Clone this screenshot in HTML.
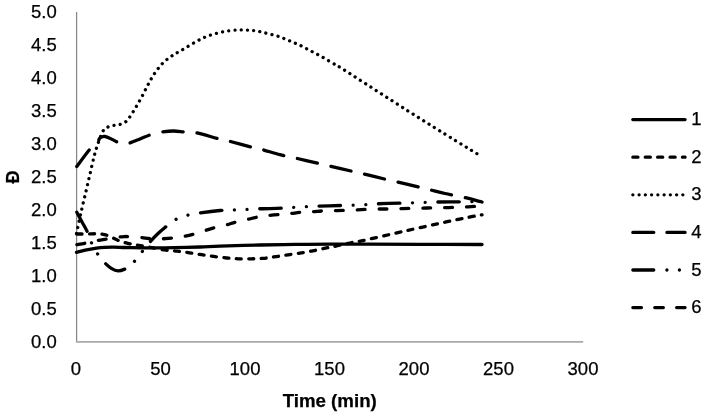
<!DOCTYPE html>
<html><head><meta charset="utf-8"><style>
html,body{margin:0;padding:0;background:#fff;}
body{width:710px;height:415px;overflow:hidden;}
svg{display:block;filter:grayscale(1);}
text{font-family:"Liberation Sans",sans-serif;font-size:18.5px;fill:#000;stroke:#000;stroke-width:0.25px;}
</style></head><body>
<svg width="710" height="415" viewBox="0 0 710 415">
<rect x="0" y="0" width="710" height="415" fill="#fff"/>
<path d="M76.6,11.9 L76.6,341.2" fill="none" stroke="#878787" stroke-width="1.25"/>
<path d="M75.95,341.95 L583.2,341.95" fill="none" stroke="#a9a9a9" stroke-width="1.8"/>
<g fill="none" stroke="#000" stroke-width="3.3" stroke-linecap="round" stroke-linejoin="round">
<path d="M76.50,252.40 C77.97,252.02 81.97,250.82 85.30,250.10 C88.63,249.38 93.22,248.57 96.50,248.10 C99.78,247.63 102.18,247.47 105.00,247.30 C107.82,247.13 110.07,247.07 113.40,247.10 C116.73,247.13 120.57,247.38 125.00,247.50 C129.43,247.62 135.50,247.73 140.00,247.80 C144.50,247.87 146.33,247.92 152.00,247.90 C157.67,247.88 166.00,247.85 174.00,247.70 C182.00,247.55 192.33,247.25 200.00,247.00 C207.67,246.75 210.00,246.53 220.00,246.20 C230.00,245.87 247.50,245.30 260.00,245.00 C272.50,244.70 283.33,244.53 295.00,244.40 C306.67,244.27 318.00,244.23 330.00,244.20 C342.00,244.17 352.00,244.18 367.00,244.20 C382.00,244.22 400.83,244.25 420.00,244.30 C439.17,244.35 471.67,244.47 482.00,244.50" />
<path d="M76.50,234.00 C77.75,234.00 81.45,234.03 84.00,234.00 C86.55,233.97 89.47,233.83 91.80,233.80 C94.13,233.77 95.92,233.67 98.00,233.80 C100.08,233.93 102.30,234.15 104.30,234.60 C106.30,235.05 108.10,235.72 110.00,236.50 C111.90,237.28 113.87,238.47 115.70,239.30 C117.53,240.13 119.00,240.83 121.00,241.50 C123.00,242.17 125.37,242.78 127.70,243.30 C130.03,243.82 132.95,244.23 135.00,244.60 C137.05,244.97 137.50,245.05 140.00,245.50 C142.50,245.95 145.92,246.57 150.00,247.30 C154.08,248.03 160.00,249.25 164.50,249.90 C169.00,250.55 172.85,250.72 177.00,251.20 C181.15,251.68 185.28,252.22 189.40,252.80 C193.52,253.38 197.67,254.10 201.70,254.70 C205.73,255.30 209.42,255.85 213.60,256.40 C217.78,256.95 222.63,257.60 226.80,258.00 C230.97,258.40 234.52,258.67 238.60,258.80 C242.68,258.93 247.15,258.88 251.30,258.80 C255.45,258.72 259.35,258.67 263.50,258.30 C267.65,257.93 271.78,257.22 276.20,256.60 C280.62,255.98 285.45,255.28 290.00,254.60 C294.55,253.92 299.18,253.23 303.50,252.50 C307.82,251.77 311.77,251.02 315.90,250.20 C320.03,249.38 324.53,248.38 328.30,247.60 C332.07,246.82 334.55,246.35 338.50,245.50 C342.45,244.65 347.50,243.42 352.00,242.50 C356.50,241.58 356.67,241.92 365.50,240.00 C374.33,238.08 391.75,233.97 405.00,231.00 C418.25,228.03 434.37,224.48 445.00,222.20 C455.63,219.92 462.63,218.53 468.80,217.30 C474.97,216.07 479.80,215.22 482.00,214.80" stroke-dasharray="5.0 7.47" stroke-dashoffset="-0.5"/>
<path d="M76.50,233.50 C77.25,230.00 79.42,219.53 81.00,212.50 C82.58,205.47 84.47,197.85 86.00,191.30 C87.53,184.75 88.78,179.27 90.20,173.20 C91.62,167.13 93.17,159.93 94.50,154.90 C95.83,149.87 96.82,146.92 98.20,143.00 C99.58,139.08 101.25,134.03 102.80,131.40 C104.35,128.77 105.73,128.18 107.50,127.20 C109.27,126.22 111.38,125.93 113.40,125.50 C115.42,125.07 117.60,125.18 119.60,124.60 C121.60,124.02 123.75,123.20 125.40,122.00 C127.05,120.80 127.73,119.90 129.50,117.40 C131.27,114.90 133.88,110.57 136.00,107.00 C138.12,103.43 140.18,99.73 142.20,96.00 C144.22,92.27 146.12,88.23 148.10,84.60 C150.08,80.97 151.70,77.73 154.10,74.20 C156.50,70.67 159.48,66.48 162.50,63.40 C165.52,60.32 168.98,57.92 172.20,55.70 C175.42,53.48 178.18,52.23 181.80,50.10 C185.42,47.97 190.08,45.03 193.90,42.90 C197.72,40.77 200.90,38.90 204.70,37.30 C208.50,35.70 212.73,34.37 216.70,33.30 C220.67,32.23 224.53,31.47 228.50,30.90 C232.47,30.33 236.92,30.00 240.50,29.90 C244.08,29.80 246.82,30.02 250.00,30.30 C253.18,30.58 255.03,30.63 259.60,31.60 C264.17,32.57 272.47,34.58 277.40,36.10 C282.33,37.62 285.40,39.15 289.20,40.70 C293.00,42.25 296.48,43.63 300.20,45.40 C303.92,47.17 307.75,49.32 311.50,51.30 C315.25,53.28 319.08,55.27 322.70,57.30 C326.32,59.33 329.63,61.40 333.20,63.50 C336.77,65.60 331.72,62.05 344.10,69.90 C356.48,77.75 388.98,98.85 407.50,110.60 C426.02,122.35 442.85,132.75 455.20,140.40 C467.55,148.05 477.20,153.82 481.60,156.50" stroke-dasharray="0.01 6.24"/>
<path d="M76.50,166.80 C78.75,163.83 86.48,153.07 90.00,149.00 C93.52,144.93 96.05,144.10 97.60,142.40 C99.15,140.70 98.63,139.70 99.30,138.80 C99.97,137.90 100.65,137.38 101.60,137.00 C102.55,136.62 103.55,136.27 105.00,136.50 C106.45,136.73 108.02,137.38 110.30,138.40 C112.58,139.42 116.25,141.73 118.70,142.60 C121.15,143.47 123.22,143.52 125.00,143.60 C126.78,143.68 126.90,143.87 129.40,143.10 C131.90,142.33 136.43,140.42 140.00,139.00 C143.57,137.58 147.13,135.77 150.80,134.60 C154.47,133.43 158.22,132.60 162.00,132.00 C165.78,131.40 169.67,131.00 173.50,131.00 C177.33,131.00 181.28,131.72 185.00,132.00 C188.72,132.28 190.25,131.58 195.80,132.70 C201.35,133.82 212.72,137.28 218.30,138.70 C223.88,140.12 223.80,139.80 229.30,141.20 C234.80,142.60 245.82,145.70 251.30,147.10 C256.78,148.50 257.42,148.33 262.20,149.60 C266.98,150.87 274.37,153.27 280.00,154.70 C285.63,156.13 289.67,156.77 296.00,158.20 C302.33,159.63 312.35,161.98 318.00,163.30 C323.65,164.62 324.27,164.78 329.90,166.10 C335.53,167.42 346.32,169.93 351.80,171.20 C357.28,172.47 357.30,172.38 362.80,173.70 C368.30,175.02 379.17,177.75 384.80,179.10 C390.43,180.45 390.90,180.47 396.60,181.80 C402.30,183.13 413.43,185.77 419.00,187.10 C424.57,188.43 425.67,188.73 430.00,189.80 C434.33,190.87 439.42,192.25 445.00,193.50 C450.58,194.75 457.33,195.88 463.50,197.30 C469.67,198.72 478.92,201.22 482.00,202.00" stroke-dasharray="20.3 14.2" stroke-dashoffset="-0.6"/>
<path d="M76.40,211.50 C77.25,213.08 79.77,217.80 81.50,221.00 C83.23,224.20 85.47,228.12 86.80,230.70 C88.13,233.28 88.70,234.45 89.50,236.50 C90.30,238.55 90.73,240.95 91.60,243.00 C92.47,245.05 93.68,246.95 94.70,248.80 C95.72,250.65 96.65,252.43 97.70,254.10 C98.75,255.77 99.78,257.30 101.00,258.80 C102.22,260.30 103.28,261.50 105.00,263.10 C106.72,264.70 109.13,267.10 111.30,268.40 C113.47,269.70 115.67,270.82 118.00,270.90 C120.33,270.98 123.30,269.77 125.30,268.90 C127.30,268.03 128.48,266.95 130.00,265.70 C131.52,264.45 132.38,263.73 134.40,261.40 C136.42,259.07 139.52,254.92 142.10,251.70 C144.68,248.48 147.42,244.97 149.90,242.10 C152.38,239.23 154.58,236.85 157.00,234.50 C159.42,232.15 161.28,230.50 164.40,228.00 C167.52,225.50 171.78,221.63 175.70,219.50 C179.62,217.37 183.98,216.28 187.90,215.20 C191.82,214.12 193.85,213.78 199.20,213.00 C204.55,212.22 214.13,211.02 220.00,210.50 C225.87,209.98 230.03,210.07 234.40,209.90 C238.77,209.73 242.12,209.68 246.20,209.50 C250.28,209.32 252.98,209.02 258.90,208.80 C264.82,208.58 275.95,208.45 281.70,208.20 C287.45,207.95 289.35,207.57 293.40,207.30 C297.45,207.03 301.93,206.80 306.00,206.60 C310.07,206.40 312.03,206.28 317.80,206.10 C323.57,205.92 334.77,205.65 340.60,205.50 C346.43,205.35 348.72,205.33 352.80,205.20 C356.88,205.07 361.10,204.93 365.10,204.70 C369.10,204.47 371.05,204.05 376.80,203.80 C382.55,203.55 393.75,203.37 399.60,203.20 C405.45,203.03 407.77,202.93 411.90,202.80 C416.03,202.67 420.27,202.53 424.40,202.40 C428.53,202.27 430.83,202.10 436.70,202.00 C442.57,201.90 452.05,201.88 459.60,201.80 C467.15,201.72 478.27,201.55 482.00,201.50" stroke-dasharray="21.3 12.65 0.01 12.6 0.01 12.86" stroke-dashoffset="-1.0"/>
<path d="M76.50,244.80 C78.08,244.50 82.67,243.70 86.00,243.00 C89.33,242.30 92.97,241.27 96.50,240.60 C100.03,239.93 103.55,239.57 107.20,239.00 C110.85,238.43 115.60,237.60 118.40,237.20 C121.20,236.80 122.17,236.70 124.00,236.60 C125.83,236.50 126.65,236.47 129.40,236.60 C132.15,236.73 137.27,237.08 140.50,237.40 C143.73,237.72 146.38,238.25 148.80,238.50 C151.22,238.75 152.83,238.85 155.00,238.90 C157.17,238.95 158.85,238.93 161.80,238.80 C164.75,238.67 169.07,238.50 172.70,238.10 C176.33,237.70 180.03,237.08 183.60,236.40 C187.17,235.72 190.58,234.95 194.10,234.00 C197.62,233.05 201.20,231.78 204.70,230.70 C208.20,229.62 211.55,228.45 215.10,227.50 C218.65,226.55 222.50,225.92 226.00,225.00 C229.50,224.08 232.58,222.92 236.10,222.00 C239.62,221.08 243.45,220.35 247.10,219.50 C250.75,218.65 254.48,217.55 258.00,216.90 C261.52,216.25 264.53,216.02 268.20,215.60 C271.87,215.18 276.37,214.73 280.00,214.40 C283.63,214.07 286.50,213.95 290.00,213.60 C293.50,213.25 297.33,212.60 301.00,212.30 C304.67,212.00 308.35,212.03 312.00,211.80 C315.65,211.57 319.25,211.10 322.90,210.90 C326.55,210.70 330.23,210.68 333.90,210.60 C337.57,210.52 341.25,210.52 344.90,210.40 C348.55,210.28 352.15,210.07 355.80,209.90 C359.45,209.73 363.15,209.55 366.80,209.40 C370.45,209.25 374.20,209.07 377.70,209.00 C381.20,208.93 384.28,209.05 387.80,209.00 C391.32,208.95 395.15,208.80 398.80,208.70 C402.45,208.60 405.92,208.48 409.70,208.40 C413.48,208.32 417.83,208.30 421.50,208.20 C425.17,208.10 428.18,207.88 431.70,207.80 C435.22,207.72 438.90,207.77 442.60,207.70 C446.30,207.63 450.17,207.52 453.90,207.40 C457.63,207.28 461.40,207.17 465.00,207.00 C468.60,206.83 472.67,206.53 475.50,206.40 C478.33,206.27 480.92,206.23 482.00,206.20" stroke-dasharray="7.8 14.06" stroke-dashoffset="-0.5"/>
</g>
<g>
<text x="56.8" y="347.80" text-anchor="end">0.0</text>
<text x="56.8" y="314.78" text-anchor="end">0.5</text>
<text x="56.8" y="281.76" text-anchor="end">1.0</text>
<text x="56.8" y="248.74" text-anchor="end">1.5</text>
<text x="56.8" y="215.72" text-anchor="end">2.0</text>
<text x="56.8" y="182.70" text-anchor="end">2.5</text>
<text x="56.8" y="149.68" text-anchor="end">3.0</text>
<text x="56.8" y="116.66" text-anchor="end">3.5</text>
<text x="56.8" y="83.64" text-anchor="end">4.0</text>
<text x="56.8" y="50.62" text-anchor="end">4.5</text>
<text x="56.8" y="17.60" text-anchor="end">5.0</text>
<text x="76.00" y="375.00" text-anchor="middle">0</text>
<text x="160.50" y="375.00" text-anchor="middle">50</text>
<text x="245.00" y="375.00" text-anchor="middle">100</text>
<text x="329.50" y="375.00" text-anchor="middle">150</text>
<text x="414.00" y="375.00" text-anchor="middle">200</text>
<text x="498.50" y="375.00" text-anchor="middle">250</text>
<text x="583.00" y="375.00" text-anchor="middle">300</text>
</g>
<text x="329.7" y="406.5" text-anchor="middle" style="font-weight:bold;font-size:18.7px">Time (min)</text>
<text transform="translate(18.8,177) rotate(-90)" x="0" y="0" text-anchor="middle" style="font-weight:bold;font-size:18.2px">Đ</text>
<g fill="none" stroke="#000" stroke-width="3.3" stroke-linecap="round">
<path d="M632.85,119.60 L685.05,119.60" />
<text x="691.2" y="125.10" stroke="none" fill="#000">1</text>
<path d="M632.85,157.20 L685.05,157.20" stroke-dasharray="5.1 7.3"/>
<text x="691.2" y="162.70" stroke="none" fill="#000">2</text>
<path d="M632.85,194.80 L685.05,194.80" stroke-dasharray="0.01 6.24"/>
<text x="691.2" y="200.30" stroke="none" fill="#000">3</text>
<path d="M632.85,232.40 L685.05,232.40" stroke-dasharray="20.9 13.2"/>
<text x="691.2" y="237.90" stroke="none" fill="#000">4</text>
<path d="M632.85,270.00 L685.05,270.00" stroke-dasharray="20.9 13.15 0.01 12.5 0.01 13.2"/>
<text x="691.2" y="275.50" stroke="none" fill="#000">5</text>
<path d="M632.85,307.60 L685.05,307.60" stroke-dasharray="8.6 13.3"/>
<text x="691.2" y="313.10" stroke="none" fill="#000">6</text>
</g>
</svg>
</body></html>
